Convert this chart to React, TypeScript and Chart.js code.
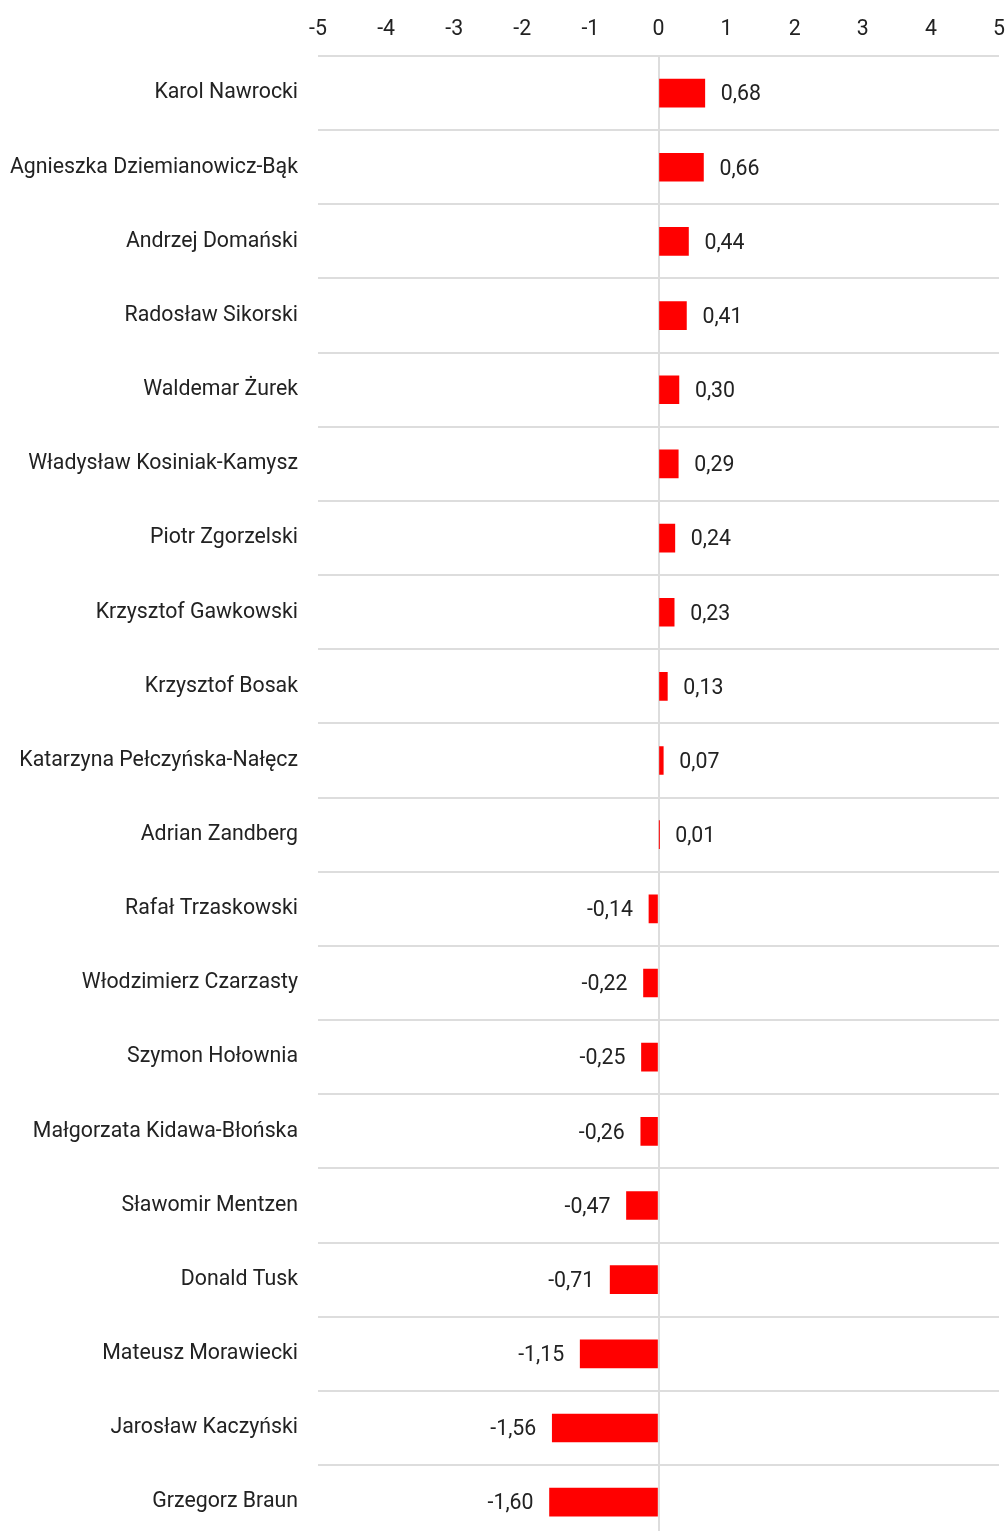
import React, { useEffect, useRef } from "react";
import { Chart, registerables } from "chart.js";

Chart.register(...registerables);

const names = [
  "Karol Nawrocki",
  "Agnieszka Dziemianowicz-Bąk",
  "Andrzej Domański",
  "Radosław Sikorski",
  "Waldemar Żurek",
  "Władysław Kosiniak-Kamysz",
  "Piotr Zgorzelski",
  "Krzysztof Gawkowski",
  "Krzysztof Bosak",
  "Katarzyna Pełczyńska-Nałęcz",
  "Adrian Zandberg",
  "Rafał Trzaskowski",
  "Włodzimierz Czarzasty",
  "Szymon Hołownia",
  "Małgorzata Kidawa-Błońska",
  "Sławomir Mentzen",
  "Donald Tusk",
  "Mateusz Morawiecki",
  "Jarosław Kaczyński",
  "Grzegorz Braun",
];

const values = [
  0.68, 0.66, 0.44, 0.41, 0.3, 0.29, 0.24, 0.23, 0.13, 0.07, 0.01, -0.14,
  -0.22, -0.25, -0.26, -0.47, -0.71, -1.15, -1.56, -1.6,
];

const axisMin = -5;
const axisMax = 5;

const FONT = "Roboto, 'Noto Sans', sans-serif";
const FONT_SIZE = 21.3;
const TEXT = "#222222";
const GRID = "#dddddd";

const fmt = (v: number) => v.toFixed(2).replace(".", ",");

const valueLabels = {
  id: "valueLabels",
  afterDatasetsDraw(chart: any) {
    const ctx = chart.ctx;
    const meta = chart.getDatasetMeta(0);
    ctx.save();
    ctx.font = `${FONT_SIZE}px ${FONT}`;
    ctx.fillStyle = TEXT;
    ctx.textBaseline = "middle";
    meta.data.forEach((bar: any, i: number) => {
      const v = values[i];
      if (v >= 0) {
        ctx.textAlign = "left";
        ctx.fillText(fmt(v), bar.x + 16, bar.y + 2);
      } else {
        ctx.textAlign = "right";
        ctx.fillText(fmt(v), bar.x - 16, bar.y + 2);
      }
    });
    ctx.restore();
  },
};

export default function App() {
  const ref = useRef<HTMLCanvasElement | null>(null);

  useEffect(() => {
    if (!ref.current) return;
    const chart = new Chart(ref.current, {
      type: "bar",
      data: {
        labels: names,
        datasets: [
          {
            data: values,
            backgroundColor: "#ff0000",
            borderWidth: 0,
            barThickness: 28,
          },
        ],
      },
      plugins: [valueLabels],
      options: {
        indexAxis: "y",
        responsive: false,
        animation: false,
        layout: { padding: { top: 0, right: 9, left: 0, bottom: 0 } },
        plugins: {
          legend: { display: false },
          tooltip: { enabled: false },
        },
        scales: {
          x: {
            position: "top",
            min: axisMin,
            max: axisMax,
            ticks: {
              stepSize: 1,
              color: TEXT,
              font: { family: FONT, size: FONT_SIZE },
              padding: 3,
              maxRotation: 0,
            },
            grid: {
              drawTicks: true,
              tickLength: 11,
              tickColor: "rgba(0,0,0,0)",
              color: (c: any) => (c.tick && c.tick.value === 0 ? GRID : "rgba(0,0,0,0)"),
              lineWidth: 2,
            },
            border: { display: false },
            afterFit: (scale: any) => {
              scale.height = 56;
            },
          },
          y: {
            ticks: {
              color: TEXT,
              font: { family: FONT, size: FONT_SIZE },
              padding: 0,
            },
            grid: {
              drawTicks: true,
              tickLength: 20,
              tickColor: "rgba(0,0,0,0)",
              color: GRID,
              lineWidth: 2,
            },
            border: { display: false },
            afterFit: (scale: any) => {
              scale.width = 318;
            },
          },
        },
      },
    });
    return () => chart.destroy();
  }, []);

  return (
    <div
      style={{
        position: "absolute",
        top: 0,
        left: 0,
        width: 1008,
        height: 1531,
        overflow: "hidden",
        background: "#fff",
      }}
    >
      <canvas ref={ref} width={1008} height={1552} style={{ display: "block" }} />
    </div>
  );
}
